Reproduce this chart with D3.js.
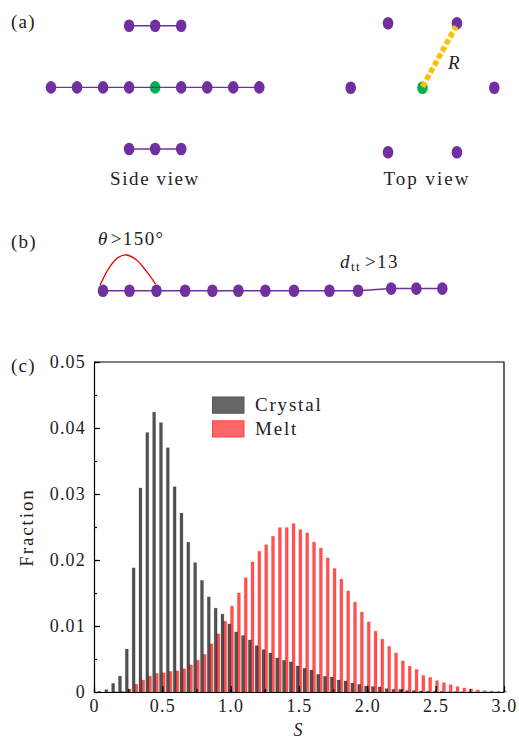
<!DOCTYPE html>
<html><head><meta charset="utf-8">
<script src="https://cdn.jsdelivr.net/npm/d3@7/dist/d3.min.js"></script>
<style>
html,body{margin:0;padding:0;background:#fff}
svg{display:block}
text{font-family:"Liberation Serif",serif;fill:#222;letter-spacing:1.5px}
</style></head><body>
<script>
// Panel (c) histogram data
const binIndex = d3.range(60);
const crystal = [0.0001,0.00035,0.0013,0.0024,0.0065,0.0188,0.0309,0.0393,0.0424,0.0408,0.0370,0.0311,0.0271,0.0227,0.0196,0.0169,0.0144,0.0127,0.0118,0.0103,
0.0091,0.00854,0.00788,0.00702,0.00641,0.00591,0.00515,0.0048,0.00455,0.00394,0.00359,0.00333,0.00268,0.00237,0.00227,0.00182,0.00167,0.00136,0.00116,0.00091,
0.00081,0.00076,0.0005,0.0004,0.0004,0.0002,0.0002,0.00015,0.0001,0.0001,0.0001,0.00005,0.00005,0.00004,0.00003,0.00003,0.00002,0.00002,0.00001,0.00001];
const melt = [0,0.00002,0.00005,0.0001,0.00045,0.00116,0.0018,0.0024,0.0028,0.0029,0.0031,0.0032,0.0035,0.0041,0.0048,0.0057,0.0073,0.0088,0.0107,0.013,
0.015,0.0173,0.0197,0.0213,0.0223,0.0236,0.0249,0.0249,0.0255,0.0246,0.0241,0.0227,0.0218,0.0203,0.0187,0.0171,0.0153,0.0136,0.0121,0.0106,
0.0092,0.008,0.0069,0.0059,0.0047,0.0039,0.0034,0.0025,0.0022,0.0017,0.0014,0.0011,0.0008,0.0006,0.00045,0.0003,0.0002,0.00015,0.0001,0.0001];
const crystalCenterStart = 0.04, meltCenterStart = 0.06, binStep = 0.05, barWidthS = 0.021;
const xTicks = [0,0.5,1,1.5,2,2.5,3];
const xMinorTicks = d3.range(0,3.01,0.25);
const yTicks = [0,0.01,0.02,0.03,0.04,0.05];
const yMinorTicks = d3.range(0,0.0501,0.005);
const legendNames = ["Crystal","Melt"];

// Panel (a) side view: bead column per row, row index
const sideTop = [-1,0,1];
const sideMid = [-4,-3,-2,-1,0,1,2,3,4];
const sideBot = [-1,0,1];
const rows = [-1,0,1];
// Panel (a) top view: hexagon in unit coordinates
const topX = [-0.48,0.48,-1,0,1,-0.48,0.48];
const topY = [-1,-1,0,0,0,1,1];
const topGreen = 3, topRadiusTo = 1;
// Panel (b) chain
const chainX = [0,1,2.02,3.1,4.13,5.11,6.13,7.21,8.55,9.63,10.88,11.83,12.81];
const chainY = [0,0,0,0,0,0,0,0,0,0,1,1,1];
const arcX = [-0.11,0.26,0.58,0.89,1.27,1.65,1.99];
const arcY = [5.7,24,33.3,35.7,30.7,19,6.4];

const W=519,H=740;
const PURPLE="#7030a0",GREEN="#00b050",ORANGE="#ffc000";
const svg=d3.select("body").append("svg").attr("width",W).attr("height",H);
const label=(x,y,t,o={})=>svg.append("text").attr("x",x).attr("y",y)
  .attr("font-size",o.size||19).attr("font-style",o.italic?"italic":null)
  .attr("text-anchor",o.anchor||"start").style("letter-spacing",o.ls!==undefined?o.ls+"px":null).text(t);

function bead(g,x,y,c){g.append("ellipse").attr("cx",x).attr("cy",y).attr("rx",5.3).attr("ry",6.3).attr("fill",c);}

// ---- (a) side view
label(11,28,"(a)",{ls:1.2});
const sx=d3.scaleLinear().domain([-4,4]).range([51,259.3]);
const sy=d3.scaleLinear().domain([-1,1]).range([25.7,149]);
const ga=svg.append("g");
[sideTop,sideMid,sideBot].forEach((r,i)=>{
  r.forEach(c=>{ if(!(rows[i]===0&&c===0)) bead(ga,sx(c),sy(rows[i]),PURPLE); });
});
bead(ga,sx(0),sy(0),GREEN);
[sideTop,sideMid,sideBot].forEach((r,i)=>{
  ga.append("line").attr("x1",sx(d3.min(r))).attr("x2",sx(d3.max(r)))
    .attr("y1",sy(rows[i])).attr("y2",sy(rows[i])).attr("stroke",PURPLE).attr("stroke-width",1.4);
});
label(155,185,"Side view",{anchor:"middle",ls:1.6});

// ---- (a) top view
const tx=d3.scaleLinear().domain([-1,1]).range([350.7,494.3]);
const ty=d3.scaleLinear().domain([-1,1]).range([23.3,152.3]);
const gt=svg.append("g");
topX.forEach((v,i)=>bead(gt,tx(v),ty(topY[i]),i===topGreen?GREEN:PURPLE));
gt.append("line").attr("x1",tx(topX[topGreen])).attr("y1",ty(topY[topGreen])-1)
  .attr("x2",tx(topX[topRadiusTo])-1).attr("y2",ty(topY[topRadiusTo])+3)
  .attr("stroke",ORANGE).attr("stroke-width",5.5).attr("stroke-dasharray","5.5 2.6");
label(448,69,"R",{italic:true,size:19});
label(427,185,"Top view",{anchor:"middle",ls:2});

// ---- (b)
label(11,248,"(b)",{ls:1.2});
const bx=d3.scaleLinear().domain([0,12.81]).range([103,442.3]);
const by=d3.scaleLinear().domain([0,1]).range([290.7,288.6]);
const gb=svg.append("g");
gb.append("path").attr("fill","none").attr("stroke",PURPLE).attr("stroke-width",1.5)
  .attr("d",d3.line().x(d=>bx(d[0])).y(d=>by(d[1]))(chainX.map((v,i)=>[v,chainY[i]])));
chainX.forEach((v,i)=>bead(gb,bx(v),by(chainY[i]),PURPLE));
gb.append("path").attr("fill","none").attr("stroke","#f00000").attr("stroke-width",1.3)
  .attr("d",d3.line().curve(d3.curveCatmullRom).x(d=>bx(d[0])).y(d=>by(0)-d[1])(arcX.map((v,i)=>[v,arcY[i]])));
const th=label(98,245,"",{size:19,ls:1.4});
th.append("tspan").attr("font-style","italic").text("θ");
th.append("tspan").attr("dx",2).text(">150°");
const dt=label(340,268,"",{size:19,ls:1.4});
dt.append("tspan").attr("font-style","italic").text("d");
dt.append("tspan").attr("font-size",13).attr("dy",3).text("tt");
dt.append("tspan").attr("dy",-3).attr("dx",4).text(">13");

// ---- (c)
label(11,372,"(c)",{ls:1.2});
const m={l:94,r:504,t:362,b:692};
const x=d3.scaleLinear().domain([0,3]).range([m.l,m.r]);
const y=d3.scaleLinear().domain([0,0.05]).range([m.b,m.t]);
const bw=x(barWidthS)-x(0);
const drawBars=(vals,start,fill,stroke)=>svg.append("g").selectAll("rect").data(binIndex).join("rect")
  .attr("x",i=>x(start+binStep*i)-bw/2).attr("width",bw)
  .attr("y",i=>y(vals[i])).attr("height",i=>y(0)-y(vals[i]))
  .attr("fill",fill).attr("stroke",stroke).attr("stroke-width",.8);
drawBars(melt,meltCenterStart,"rgba(255,0,0,.68)","rgba(255,0,0,.3)");
drawBars(crystal,crystalCenterStart,"rgba(0,0,0,.68)","rgba(0,0,0,.25)");

const styleAxis=g=>{g.selectAll("path,line").attr("stroke","#000").attr("stroke-width",1.2);
  g.selectAll("text").attr("font-size",18).attr("fill","#222").style("letter-spacing","1.2px").style("font-family",'"Liberation Serif",serif');};
svg.append("g").attr("transform",`translate(0,${m.b})`)
  .call(d3.axisBottom(x).tickValues(xMinorTicks).tickSize(-3).tickFormat(""))
  .call(styleAxis).select(".domain").remove();
svg.append("g").attr("transform",`translate(0,${m.b})`)
  .call(d3.axisBottom(x).tickValues(xTicks).tickSize(-6).tickPadding(7).tickSizeOuter(0)
    .tickFormat(d=>d===0?"0":d3.format(".1f")(d)))
  .call(styleAxis);
svg.append("g").attr("transform",`translate(${m.l},0)`)
  .call(d3.axisLeft(y).tickValues(yMinorTicks).tickSize(-3).tickFormat(""))
  .call(styleAxis).select(".domain").remove();
svg.append("g").attr("transform",`translate(${m.l},0)`)
  .call(d3.axisLeft(y).tickValues(yTicks).tickSize(-6).tickPadding(8).tickSizeOuter(0)
    .tickFormat(d=>d===0?"0":d3.format(".2f")(d)))
  .call(styleAxis);
svg.append("path").attr("fill","none").attr("stroke","#000").attr("stroke-width",1.2)
  .attr("d",`M${m.l},${m.t}H${m.r}V${m.b}`);
label(298,736,"S",{italic:true,size:18,anchor:"middle",ls:0});
svg.append("text").attr("transform","translate(33,527.5) rotate(-90)").attr("text-anchor","middle")
  .attr("font-size",19).style("letter-spacing","1.9px").text("Fraction");

// legend
const lg=d3.scaleBand().domain(legendNames).range([397,441]).paddingInner(0.15).paddingOuter(0);
const lfill=["#666","#ff6666"],lstroke=["#555","#ff4444"];
legendNames.forEach((n,i)=>{
  svg.append("rect").attr("x",212.5).attr("width",31.5).attr("y",lg(n)).attr("height",lg.bandwidth()-4)
    .attr("fill",lfill[i]).attr("stroke",lstroke[i]).attr("stroke-width",1);
  label(255,lg(n)+14,n,{size:19,ls:1.8});
});
</script>
</body></html>
